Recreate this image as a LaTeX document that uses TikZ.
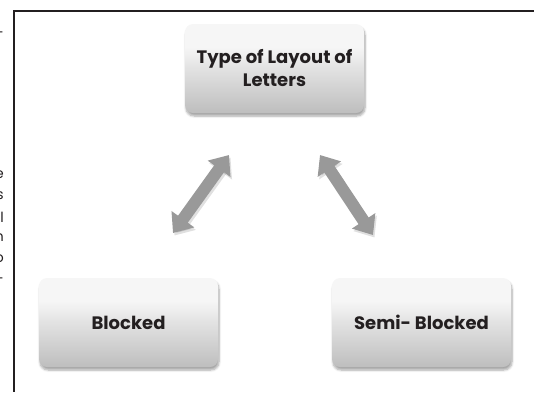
\documentclass[tikz,border=0pt]{standalone}
\usepackage{fontspec}
\setmainfont{Poppins}
\usetikzlibrary{arrows.meta,shadows.blur}

\definecolor{framec}{HTML}{231F20}
\definecolor{textc}{HTML}{231F20}
\definecolor{arrowc}{HTML}{999999}
\definecolor{boxtop}{HTML}{F6F6F6}
\definecolor{boxmid}{HTML}{E2E2E2}
\definecolor{boxbot}{HTML}{BEBEBE}

% light top fading into grey at the bottom
\pgfdeclareverticalshading{boxshade}{100bp}{%
  color(0bp)=(boxbot); color(25bp)=(boxbot); color(50bp)=(boxmid);
  color(62bp)=(boxtop); color(100bp)=(boxtop)}

\tikzset{
  card/.style={rectangle, rounded corners=8pt, shading=boxshade,
    minimum width=179pt, minimum height=89pt, align=center,
    font=\fontsize{18}{23}\selectfont\bfseries, text=textc,
    blur shadow={shadow xshift=1pt, shadow yshift=-3pt,
      shadow blur steps=6, shadow opacity=35}},
  biarrow/.style={line width=12pt, draw=arrowc,
    {Triangle[width=27pt,length=17pt]}-{Triangle[width=27pt,length=17pt]}},
  biarrowshadow/.style={line width=12pt, draw=black, opacity=0.12,
    {Triangle[width=27pt,length=17pt]}-{Triangle[width=27pt,length=17pt]}},
  frameline/.style={draw=framec, line width=2.5pt},
  margintext/.style={anchor=east, inner sep=0pt,
    font=\fontsize{14}{16}\selectfont, text=textc}
}

\begin{document}
\begin{tikzpicture}[x=1pt,y=-1pt]
  \useasboundingbox (0,0) rectangle (534,392);

  % frame
  \coordinate (fTL) at (14,11);
  \coordinate (fTR) at (534,11);
  \coordinate (fBL) at (14,392);
  \draw[frameline] (fTR) -- (fTL) -- (fBL);

  % ends of the running text beside the frame
  \node[margintext] (m1) at (4,35) {-};
  \node[margintext] (m2) at (4,175) {e};
  \node[margintext] (m3) at (4,196) {s};
  \node[margintext] (m4) at (4,217) {l};
  \node[margintext] (m5) at (4,238) {n};
  \node[margintext] (m6) at (4,259) {o};
  \node[margintext] (m7) at (4,281) {-};

  % boxes
  \node[card] (top)   at (274.5,68.5)  {Type of Layout of\\Letters};
  \node[card] (block) at (128.5,322.5) {Blocked};
  \node[card] (semi)  at (421.5,322.5) {Semi- Blocked};

  % double arrows between the title and the two kinds
  \coordinate (la) at (229,155);
  \coordinate (lb) at (173,233);
  \coordinate (ra) at (320,155);
  \coordinate (rb) at (373,235);
  \draw[biarrowshadow, transform canvas={xshift=1.5pt,yshift=-2.5pt}] (la) -- (lb);
  \draw[biarrowshadow, transform canvas={xshift=1.5pt,yshift=-2.5pt}] (ra) -- (rb);
  \draw[biarrow] (la) -- (lb);
  \draw[biarrow] (ra) -- (rb);
\end{tikzpicture}
\end{document}
